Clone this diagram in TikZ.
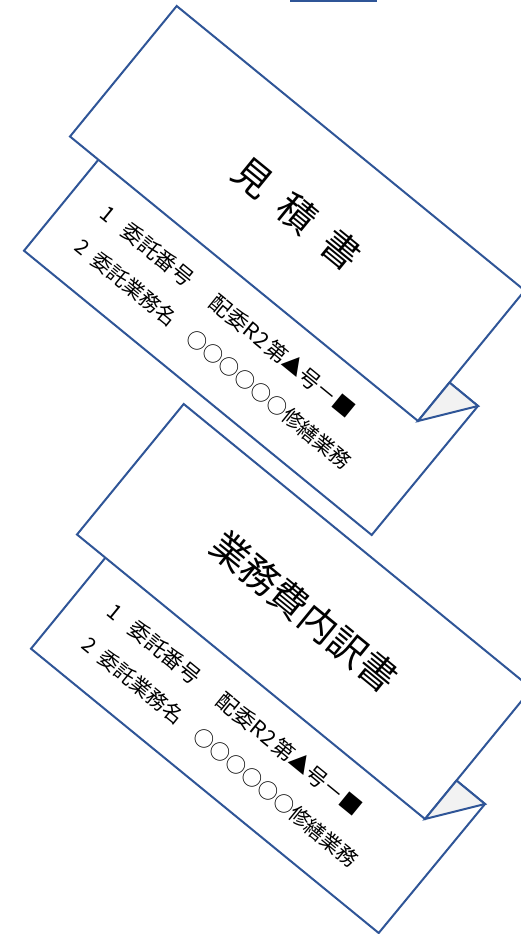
\documentclass[tikz,border=0pt]{standalone}
\usepackage{fontspec}
\setmainfont{Noto Sans CJK JP}
\definecolor{docblue}{HTML}{2F5597}
\definecolor{foldgray}{HTML}{F2F2F2}
\tikzset{
  panel/.style={draw=docblue, line width=2pt, fill=white, line join=miter},
  foldtri/.style={draw=docblue, line width=2pt, fill=foldgray, line join=miter},
  titletext/.style={font=\fontsize{38}{40}\selectfont, rotate=-39.27, inner sep=0pt},
  itemtext/.style={font=\fontsize{20.5}{22}\selectfont, rotate=-39.27, anchor=west, inner sep=0pt},
}
\newcommand\mydoc[3]{%
  \begin{scope}[shift={#2}]
    \coordinate (#1T) at (176.7,6);
    \coordinate (#1L) at (70,136.5);
    \coordinate (#1B) at (418,421);
    \coordinate (#1R) at (524.7,290.5);
    \coordinate (#1BL) at (24,250.7);
    \coordinate (#1BB) at (371.7,535);
    \coordinate (#1BR) at (478,406);
    \coordinate (#1BT) at (130.7,120.2);
    \draw[panel] (#1BL) -- (#1BB) -- (#1BR) -- (#1BT) -- cycle;
    \draw[panel] (#1T) -- (#1L) -- (#1B) -- (#1R) -- cycle;
    \coordinate (#1P) at (intersection of #1B--#1R and #1BR--#1BT);
    \draw[foldtri] (#1B) -- (#1P) -- (#1BR) -- cycle;
    \node[titletext] (#1title) at (297.4,213.5) {#3};
    \node[itemtext, font=\fontsize{21.5}{23}\selectfont] (#1line1) at (103.8,210) {1\hspace{0.7em}委託番号\hspace{1.3em}配委R\hspace{0.05em}2\hspace{0.1em}第▲号－■};
    \node[itemtext] (#1line2) at (78.5,243.5) {2\hspace{0.45em}委託業務名　○○○○○○修繕業務};
  \end{scope}%
}
\begin{document}
\begin{tikzpicture}[x=1pt,y=-1pt]
  \useasboundingbox (0,0) rectangle (521,934);
  \clip (0,0) rectangle (521,934);
  \draw[docblue, line width=2.6pt] (290,1) -- (377,1);
  \mydoc{a}{(0,0)}{見\hspace{0.5em}積\hspace{0.5em}書}
  \mydoc{b}{(7,398)}{業務費内訳書}
\end{tikzpicture}
\end{document}
